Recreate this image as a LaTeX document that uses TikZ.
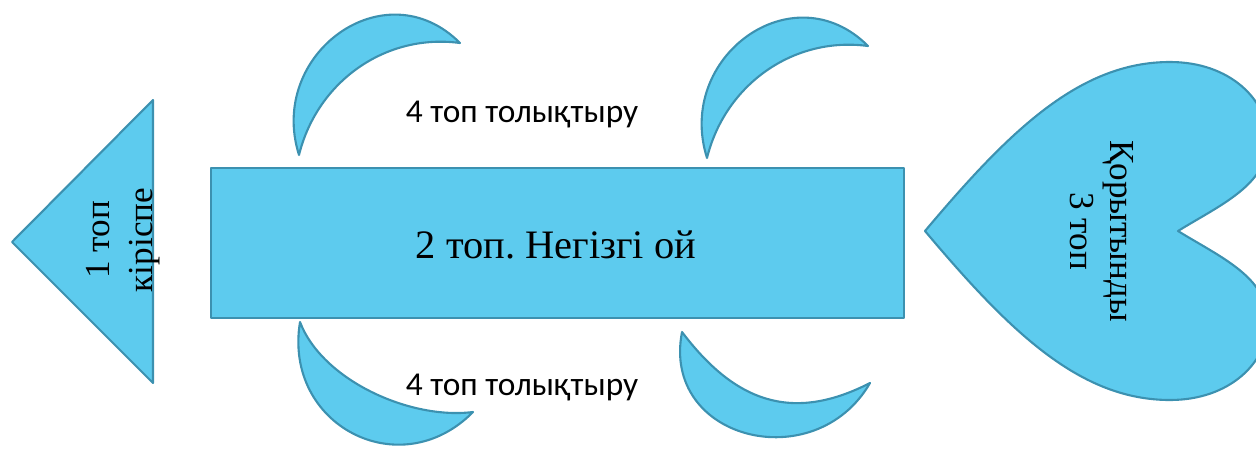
\documentclass[tikz,border=0pt]{standalone}
\usepackage{fontspec}
\setmainfont{Liberation Serif}
\newfontfamily\calfont{Carlito}
\usepackage{xcolor}
\usepackage{tikz}
\frenchspacing

\definecolor{piecefill}{RGB}{93,203,238}
\definecolor{pieceline}{RGB}{60,145,176}

\tikzset{
    piece/.style={fill=piecefill, draw=pieceline, line width=1.2pt, line join=round},
    sidelabel/.style={font=\fontsize{20}{24.4}\selectfont, align=center},
    fourlabel/.style={font=\calfont\fontsize{19}{22}\selectfont, anchor=base}
}

\begin{document}
\begin{tikzpicture}[x=0.02cm, y=-0.02cm]
        \useasboundingbox (0,0) rectangle (1256,450);

        % The triangle
        \draw[piece] (12,242) -- (153,100) -- (153,383) -- cycle;

        % The middle box
        \draw[piece] (211,168) rectangle (904,318);

        % The heart
        \draw[piece] (925,231) .. controls (1010,130) and (1080,62) .. (1170,62)
            .. controls (1230,62) and (1268,100) .. (1268,140)
            .. controls (1268,185) and (1220,205) .. (1178,231)
            .. controls (1220,257) and (1268,277) .. (1268,322)
            .. controls (1268,362) and (1230,400) .. (1170,400)
            .. controls (1080,400) and (1010,332) .. (925,231) -- cycle;

        % The moons
        \draw[piece] (299,155) .. controls (267,54) and (385,-32) .. (460,43)
            .. controls (385,33) and (317,82) .. (299,155) -- cycle;
        \draw[piece] (707,158) .. controls (675,57) and (793,-29) .. (868,46)
            .. controls (793,36) and (725,85) .. (707,158) -- cycle;
        \draw[piece] (300,322) .. controls (283,425) and (400,486) .. (473,412)
            .. controls (410,420) and (322,380) .. (300,322) -- cycle;
        \draw[piece] (682,332) .. controls (661,440) and (815,478) .. (870,383)
            .. controls (792,423) and (735,402) .. (682,332) -- cycle;

        % The words
        \node[sidelabel, rotate=90] (intro) at (123,240) {1 топ\\кіріспе};
        \node[font=\fontsize{23}{27}\selectfont, anchor=base] (main) at (556,258) {2 топ. Негізгі ой};
        \node[sidelabel, rotate=-90, font=\fontsize{20}{22.7}\selectfont] (outro) at (1102,231) {Қорытынды\\3 топ};
        \node[fourlabel] (extraup) at (522,122) {4 топ толықтыру};
        \node[fourlabel] (extradown) at (522,395) {4 топ толықтыру};

    \end{tikzpicture}
\end{document}
